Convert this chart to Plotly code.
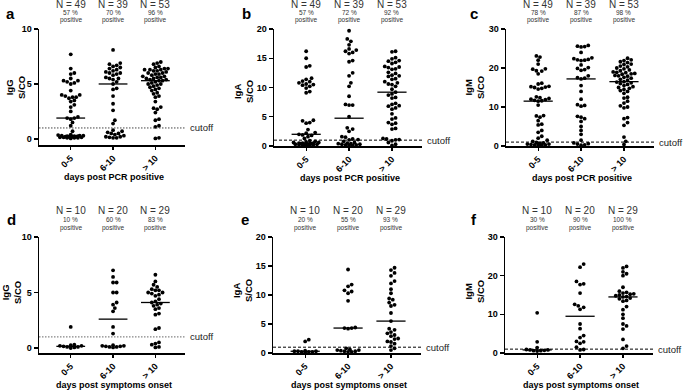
import numpy as np
import plotly.graph_objects as go

# ---------------- data ----------------
categories = ["0-5", "6-10", "> 10"]

# a: IgG, days post PCR positive
igg_pcr_0_5 = [7.7, 6.4, 6.0, 5.9, 5.5, 5.3, 5.3, 5.2, 5.1, 5.0, 4.4, 4.0, 4.0, 3.9, 3.8, 3.8, 3.7, 3.5, 3.4, 3.1,
               2.9, 2.5, 2.0, 1.9, 1.9, 1.8, 1.5, 1.2,
               0.7, 0.4, 0.35, 0.3, 0.3, 0.3, 0.25, 0.25, 0.25, 0.2, 0.2, 0.2, 0.2, 0.2, 0.15, 0.15, 0.15,
               0.1, 0.1, 0.1, 0.05]
igg_pcr_6_10 = [8.1, 6.9, 6.8, 6.7, 6.6, 6.5, 6.4, 6.3, 6.2, 6.1, 6.0, 6.0, 5.9, 5.8, 5.6, 5.5, 5.5, 5.4, 5.2, 5.0,
                4.6, 4.5, 3.9, 3.2, 2.6, 1.7, 1.4,
                0.8, 0.7, 0.6, 0.5, 0.5, 0.4, 0.3, 0.2, 0.2, 0.15, 0.1, 0.1]
igg_pcr_gt10 = [7.0, 6.9, 6.8, 6.6, 6.5, 6.4, 6.4, 6.3, 6.3, 6.3, 6.2, 6.2, 6.1, 6.0, 6.0, 5.9, 5.9, 5.8, 5.7, 5.7,
                5.6, 5.6, 5.5, 5.5, 5.4, 5.4, 5.3, 5.3, 5.2, 5.1, 5.0, 5.0, 4.9, 4.8, 4.7, 4.6, 4.5, 4.4, 4.2, 4.1,
                3.9, 3.8, 3.4, 2.9, 2.8, 2.7, 2.4, 1.8, 1.7, 1.2, 1.1, 0.1, 0.05]
# b: IgA, days post PCR positive
iga_pcr_0_5 = [16.2, 15.0, 13.7, 13.5, 11.6, 11.4, 11.1, 11.0, 10.8, 10.6, 10.5, 10.4, 10.2, 9.9, 9.3, 9.1,
               4.4, 4.3, 4.0, 3.9, 2.8, 2.3, 2.2, 2.0, 1.9, 1.8, 1.6, 1.3,
               0.9, 0.8, 0.7, 0.6, 0.6, 0.5, 0.5, 0.5, 0.4, 0.4, 0.4, 0.4, 0.3, 0.3, 0.3, 0.3, 0.2, 0.2, 0.2,
               0.1, 0.1]
iga_pcr_6_10 = [19.7, 18.3, 17.9, 17.3, 16.6, 16.4, 16.2, 16.0, 15.8, 14.6, 14.4, 12.5, 12.0, 10.8, 10.2, 8.5,
                7.1, 7.0, 7.0, 5.0, 3.1, 2.9, 2.5, 1.6, 1.5, 1.2, 1.1, 1.05,
                0.8, 0.6, 0.5, 0.4, 0.4, 0.3, 0.3, 0.2, 0.2, 0.1, 0.1]
iga_pcr_gt10 = [16.2, 16.1, 15.1, 14.9, 14.6, 14.5, 14.3, 14.1, 13.6, 13.5, 13.4, 13.2, 13.1, 12.6, 12.4, 12.1,
                12.0, 11.9, 11.5, 11.4, 11.0, 10.8, 10.6, 10.5, 10.2, 9.7, 9.2, 8.9, 8.7, 8.3, 8.2, 7.3, 7.1,
                6.9, 6.8, 6.5, 6.3, 5.5, 4.8, 4.6, 4.0, 3.9, 3.7, 3.0, 2.9, 1.3, 1.2, 1.1, 1.05,
                0.9, 0.6, 0.3, 0.1]
# c: IgM, days post PCR positive
igm_pcr_0_5 = [23.1, 22.8, 22.0, 21.0, 19.8, 19.7, 19.3, 19.2, 18.5, 16.1, 15.9, 15.3, 15.2, 15.1, 15.0, 14.8,
               14.6, 12.6, 12.4, 12.2, 12.0, 11.9, 11.7, 11.6, 11.5, 10.5, 7.8, 7.7, 7.4, 6.5, 5.6, 5.4, 4.0,
               3.5, 2.5, 2.0, 1.5, 1.2,
               0.9, 0.8, 0.7, 0.6, 0.5, 0.5, 0.4, 0.3, 0.3, 0.2, 0.1]
igm_pcr_6_10 = [25.8, 25.6, 25.5, 25.4, 24.0, 22.6, 22.4, 22.2, 22.1, 22.0, 21.9, 20.8, 20.1, 19.9, 19.6, 19.4,
                18.0, 17.5, 17.4, 17.2, 15.5, 14.0, 12.0, 10.6, 10.4, 10.2, 7.6, 7.4, 7.0, 6.3, 5.0, 4.0, 3.0,
                1.5, 0.8, 0.6, 0.5, 0.3, 0.2]
igm_pcr_gt10 = [22.5, 22.1, 21.9, 21.6, 21.4, 21.0, 20.9, 20.5, 20.3, 20.0, 19.8, 19.5, 19.3, 19.0, 18.9, 18.8,
                18.6, 18.5, 18.4, 18.1, 18.0, 17.9, 17.6, 17.4, 17.1, 16.9, 16.5, 16.4, 16.2, 16.0, 15.8, 15.5,
                15.2, 15.0, 14.8, 14.5, 14.2, 14.0, 13.5, 12.5, 12.3, 11.5, 11.0, 10.3, 10.0, 9.8, 7.3, 7.0,
                6.0, 5.3, 2.3, 1.2, 0.4]
# d: IgG, days post symptoms onset
igg_sym_0_5 = [1.9, 0.3, 0.25, 0.2, 0.2, 0.15, 0.1, 0.1, 0.05, 0.0]
igg_sym_6_10 = [7.0, 6.4, 5.9, 5.9, 5.0, 5.0, 4.1, 3.9, 3.6, 3.3, 1.9, 1.3,
                0.25, 0.2, 0.2, 0.15, 0.15, 0.1, 0.1, 0.05]
igg_sym_gt10 = [6.6, 6.0, 5.7, 5.5, 5.3, 5.2, 5.2, 5.0, 5.0, 4.9, 4.8, 4.7, 4.4, 4.2, 4.1, 4.0, 3.9, 3.8, 3.6,
                3.5, 3.1, 3.0, 1.8, 1.7, 0.5, 0.4, 0.3, 0.1, 0.05]
# e: IgA, days post symptoms onset
iga_sym_0_5 = [2.3, 2.0, 0.4, 0.3, 0.3, 0.3, 0.2, 0.2, 0.2, 0.1]
iga_sym_6_10 = [14.4, 11.8, 11.5, 10.8, 10.6, 10.3, 9.0, 4.4, 4.3, 4.3, 4.2,
                0.8, 0.6, 0.5, 0.5, 0.4, 0.3, 0.3, 0.2, 0.2]
iga_sym_gt10 = [14.7, 14.3, 13.8, 13.3, 12.4, 12.0, 11.0, 10.3, 9.4, 9.2, 8.7, 8.3, 8.1, 6.9, 5.5, 4.2, 4.0,
                3.6, 3.4, 3.1, 2.9, 2.5, 2.4, 2.0, 1.9, 1.6, 1.2, 0.8, 0.5]
# f: IgM, days post symptoms onset
igm_sym_0_5 = [10.4, 2.9, 1.4, 0.9, 0.8, 0.8, 0.7, 0.6, 0.6, 0.5]
igm_sym_6_10 = [23.0, 22.2, 18.5, 17.9, 17.7, 15.5, 12.6, 12.2, 11.8, 11.3, 7.5, 6.3, 4.5, 4.0, 3.0, 2.9, 2.5,
                1.5, 0.9, 0.8]
igm_sym_gt10 = [22.4, 22.0, 21.0, 20.5, 20.0, 17.0, 16.0, 15.7, 15.5, 15.3, 15.2, 15.0, 14.8, 14.6, 14.5, 14.2,
                14.0, 13.6, 13.4, 12.0, 11.2, 10.0, 9.0, 7.5, 7.0, 6.2, 3.5, 1.8, 1.2]

medians_a = [1.9, 5.0, 5.3]
medians_b = [2.0, 4.75, 9.2]
medians_c = [11.5, 17.2, 16.5]
medians_d = [0.15, 2.6, 4.1]
medians_e = [0.3, 4.3, 5.5]
medians_f = [0.8, 9.5, 14.5]

n_top = ["N = 49", "N = 39", "N = 53"]
n_bottom = ["N = 10", "N = 20", "N = 29"]
pct_a = ["57 %", "70 %", "96 %"]
pct_b = ["57 %", "72 %", "92 %"]
pct_c = ["78 %", "87 %", "98 %"]
pct_d = ["10 %", "60 %", "83 %"]
pct_e = ["20 %", "55 %", "93 %"]
pct_f = ["30 %", "90 %", "100 %"]

cutoff = 1.0
panel_letters = ["a", "b", "c", "d", "e", "f"]
y_titles = ["IgG<br>S/CO", "IgA<br>S/CO", "IgM<br>S/CO", "IgG<br>S/CO", "IgA<br>S/CO", "IgM<br>S/CO"]
x_titles = ["days post PCR positive"] * 3 + ["days post symptoms onset"] * 3

# ---------------- layout geometry ----------------
W, H = 685, 391
def fx(p):
    return p / W
def fy(p):
    return 1 - p / H

DOT = "1.5px,1.5px"
DASH = "3px,2px"
XR = [-0.75, 2.7]
panels = [
    dict(vals=[igg_pcr_0_5, igg_pcr_6_10, igg_pcr_gt10], med=medians_a, n=n_top, pct=pct_a,
         xd=(39, 185), yd=(29, 145), yr=(-0.55, 10), yt=[0, 5, 10], dash=DOT, ccol="#444",
         letter=(10, 14), nrow=(5, 12.5, 20), ytitle=(15, 88)),
    dict(vals=[iga_pcr_0_5, iga_pcr_6_10, iga_pcr_gt10], med=medians_b, n=n_top, pct=pct_b,
         xd=(274, 422), yd=(29, 146), yr=(0, 20), yt=[0, 5, 10, 15, 20], dash=DASH, ccol="black",
         letter=(246, 14), nrow=(5, 12.5, 20), ytitle=(243, 91)),
    dict(vals=[igm_pcr_0_5, igm_pcr_6_10, igm_pcr_gt10], med=medians_c, n=n_top, pct=pct_c,
         xd=(506, 654), yd=(29, 146), yr=(0, 30), yt=[0, 10, 20, 30], dash=DASH, ccol="black",
         letter=(474, 14), nrow=(5, 12.5, 20), ytitle=(474, 88)),
    dict(vals=[igg_sym_0_5, igg_sym_6_10, igg_sym_gt10], med=medians_d, n=n_bottom, pct=pct_d,
         xd=(39, 185), yd=(237, 353), yr=(-0.45, 10), yt=[0, 5, 10], dash=DOT, ccol="#666",
         letter=(11, 219), nrow=(211, 219, 228), ytitle=(11, 293)),
    dict(vals=[iga_sym_0_5, iga_sym_6_10, iga_sym_gt10], med=medians_e, n=n_bottom, pct=pct_e,
         xd=(273, 421), yd=(237, 353), yr=(0, 20), yt=[0, 5, 10, 15, 20], dash=DASH, ccol="black",
         letter=(245, 219), nrow=(211, 219, 228), ytitle=(242, 291)),
    dict(vals=[igm_sym_0_5, igm_sym_6_10, igm_sym_gt10], med=medians_f, n=n_bottom, pct=pct_f,
         xd=(505, 653), yd=(237, 353), yr=(0, 30), yt=[0, 10, 20, 30], dash=DASH, ccol="black",
         letter=(474, 219), nrow=(211, 219, 228), ytitle=(474, 292)),
]


def swarm(vals, ppx, ppy, d=3.6, max_half=14.0):
    """Deterministic beeswarm offsets (category units); packs points within +-max_half px,
    allowing slight overlap when a row is full."""
    vals = np.asarray(vals, float)
    order = np.argsort(vals, kind="stable")
    placed = []
    offs = np.zeros(len(vals))
    step = d / 2
    cands = [0.0]
    j = 1
    while j * step <= max_half:
        cands += [j * step, -j * step]
        j += 1
    for i in order:
        yp = vals[i] * ppy
        best_c, best_gap = 0.0, -1.0
        for c in cands:
            gap = min([np.hypot(c - qx, yp - qy) for (qx, qy) in placed] or [99.0])
            if gap >= d:
                best_c = c
                break
            if gap > best_gap + 0.6:
                best_gap, best_c = gap, c
        placed.append((best_c, yp))
        offs[i] = best_c / ppx
    return offs


fig = go.Figure()
annotations = []
shapes = []
layout = {}
FONT = "Liberation Sans, Arial, sans-serif"
MED_HALF = 0.34

def ann(**kw):
    base = dict(showarrow=False, xanchor="center", yanchor="middle")
    base.update(kw)
    annotations.append(base)

for k, p in enumerate(panels):
    sfx = "" if k == 0 else str(k + 1)
    xa, ya = "x" + sfx, "y" + sfx
    x0, x1 = p["xd"]
    top, bot = p["yd"]
    ppx = (x1 - x0) / (XR[1] - XR[0])
    ppy = (bot - top) / (p["yr"][1] - p["yr"][0])

    for g, vals in enumerate(p["vals"]):
        offs = swarm(vals, ppx, ppy)
        fig.add_trace(go.Scatter(
            x=g + offs, y=vals, mode="markers", xaxis=xa, yaxis=ya,
            marker=dict(size=3.8, color="black", line=dict(width=0)),
            cliponaxis=False, showlegend=False, hoverinfo="skip"))
        m = p["med"][g]
        fig.add_trace(go.Scatter(
            x=[g - MED_HALF, g + MED_HALF], y=[m, m], mode="lines", xaxis=xa, yaxis=ya,
            line=dict(color="black", width=1.3), cliponaxis=False,
            showlegend=False, hoverinfo="skip"))
        # header texts
        ann(x=g, xref=xa, y=fy(p["nrow"][0]), yref="paper", text=p["n"][g],
            font=dict(size=10, color="#333", family=FONT))
        ann(x=g, xref=xa, y=fy(p["nrow"][1]), yref="paper", text=p["pct"][g],
            font=dict(size=6.5, color="#333", family=FONT))
        ann(x=g, xref=xa, y=fy(p["nrow"][2]), yref="paper", text="positive",
            font=dict(size=6.5, color="#333", family=FONT))

    layout["xaxis" + sfx] = dict(
        domain=[fx(x0), fx(x1)], range=XR, anchor=ya, tickvals=[0, 1, 2], ticktext=categories,
        tickangle=-45, showline=True, linecolor="black", linewidth=1.5, ticks="outside",
        ticklen=3, tickwidth=1.2, tickcolor="black", showgrid=False, zeroline=False,
        automargin=False, fixedrange=True,
        tickfont=dict(size=9, color="black", family=FONT, weight="bold"))
    layout["yaxis" + sfx] = dict(
        domain=[fy(bot), fy(top)], range=list(p["yr"]), anchor=xa, tickvals=p["yt"],
        showline=True, linecolor="black", linewidth=1.5, ticks="outside", ticklen=4,
        tickwidth=1.2, tickcolor="black", showgrid=False, zeroline=False,
        automargin=False, fixedrange=True,
        tickfont=dict(size=9, color="black", family=FONT, weight="bold"))

    # cutoff line + label
    shapes.append(dict(type="line", xref=xa + " domain", x0=0, x1=1, yref=ya, y0=cutoff, y1=cutoff,
                       line=dict(color=p["ccol"], width=1, dash=p["dash"])))
    ann(x=1.02, xref=xa + " domain", y=cutoff, yref=ya, text="cutoff", xanchor="left",
        font=dict(size=9.5, color="#222", family=FONT))
    # panel letter
    ann(x=fx(p["letter"][0]), y=fy(p["letter"][1]), xref="paper", yref="paper",
        text="<b>" + panel_letters[k] + "</b>", font=dict(size=15, color="black", family=FONT))
    # y title
    ann(x=fx(p["ytitle"][0]), y=fy(p["ytitle"][1]), xref="paper", yref="paper",
        text="<b>" + y_titles[k] + "</b>", textangle=-90,
        font=dict(size=9.5, color="black", family=FONT))
    # x title
    ann(x=fx((x0 + x1) / 2 + 2), y=fy(bot + 32), xref="paper", yref="paper",
        text="<b>" + x_titles[k] + "</b>", font=dict(size=9, color="black", family=FONT))

fig.update_layout(
    width=W, height=H, margin=dict(l=0, r=0, t=0, b=0, autoexpand=False),
    paper_bgcolor="white", plot_bgcolor="white",
    font=dict(family=FONT, color="black"), hovermode=False,
    annotations=annotations, shapes=shapes, **layout)

fig.write_html("out.html", config={"displayModeBar": False, "staticPlot": True},
               post_script="document.body.style.margin='0';")
